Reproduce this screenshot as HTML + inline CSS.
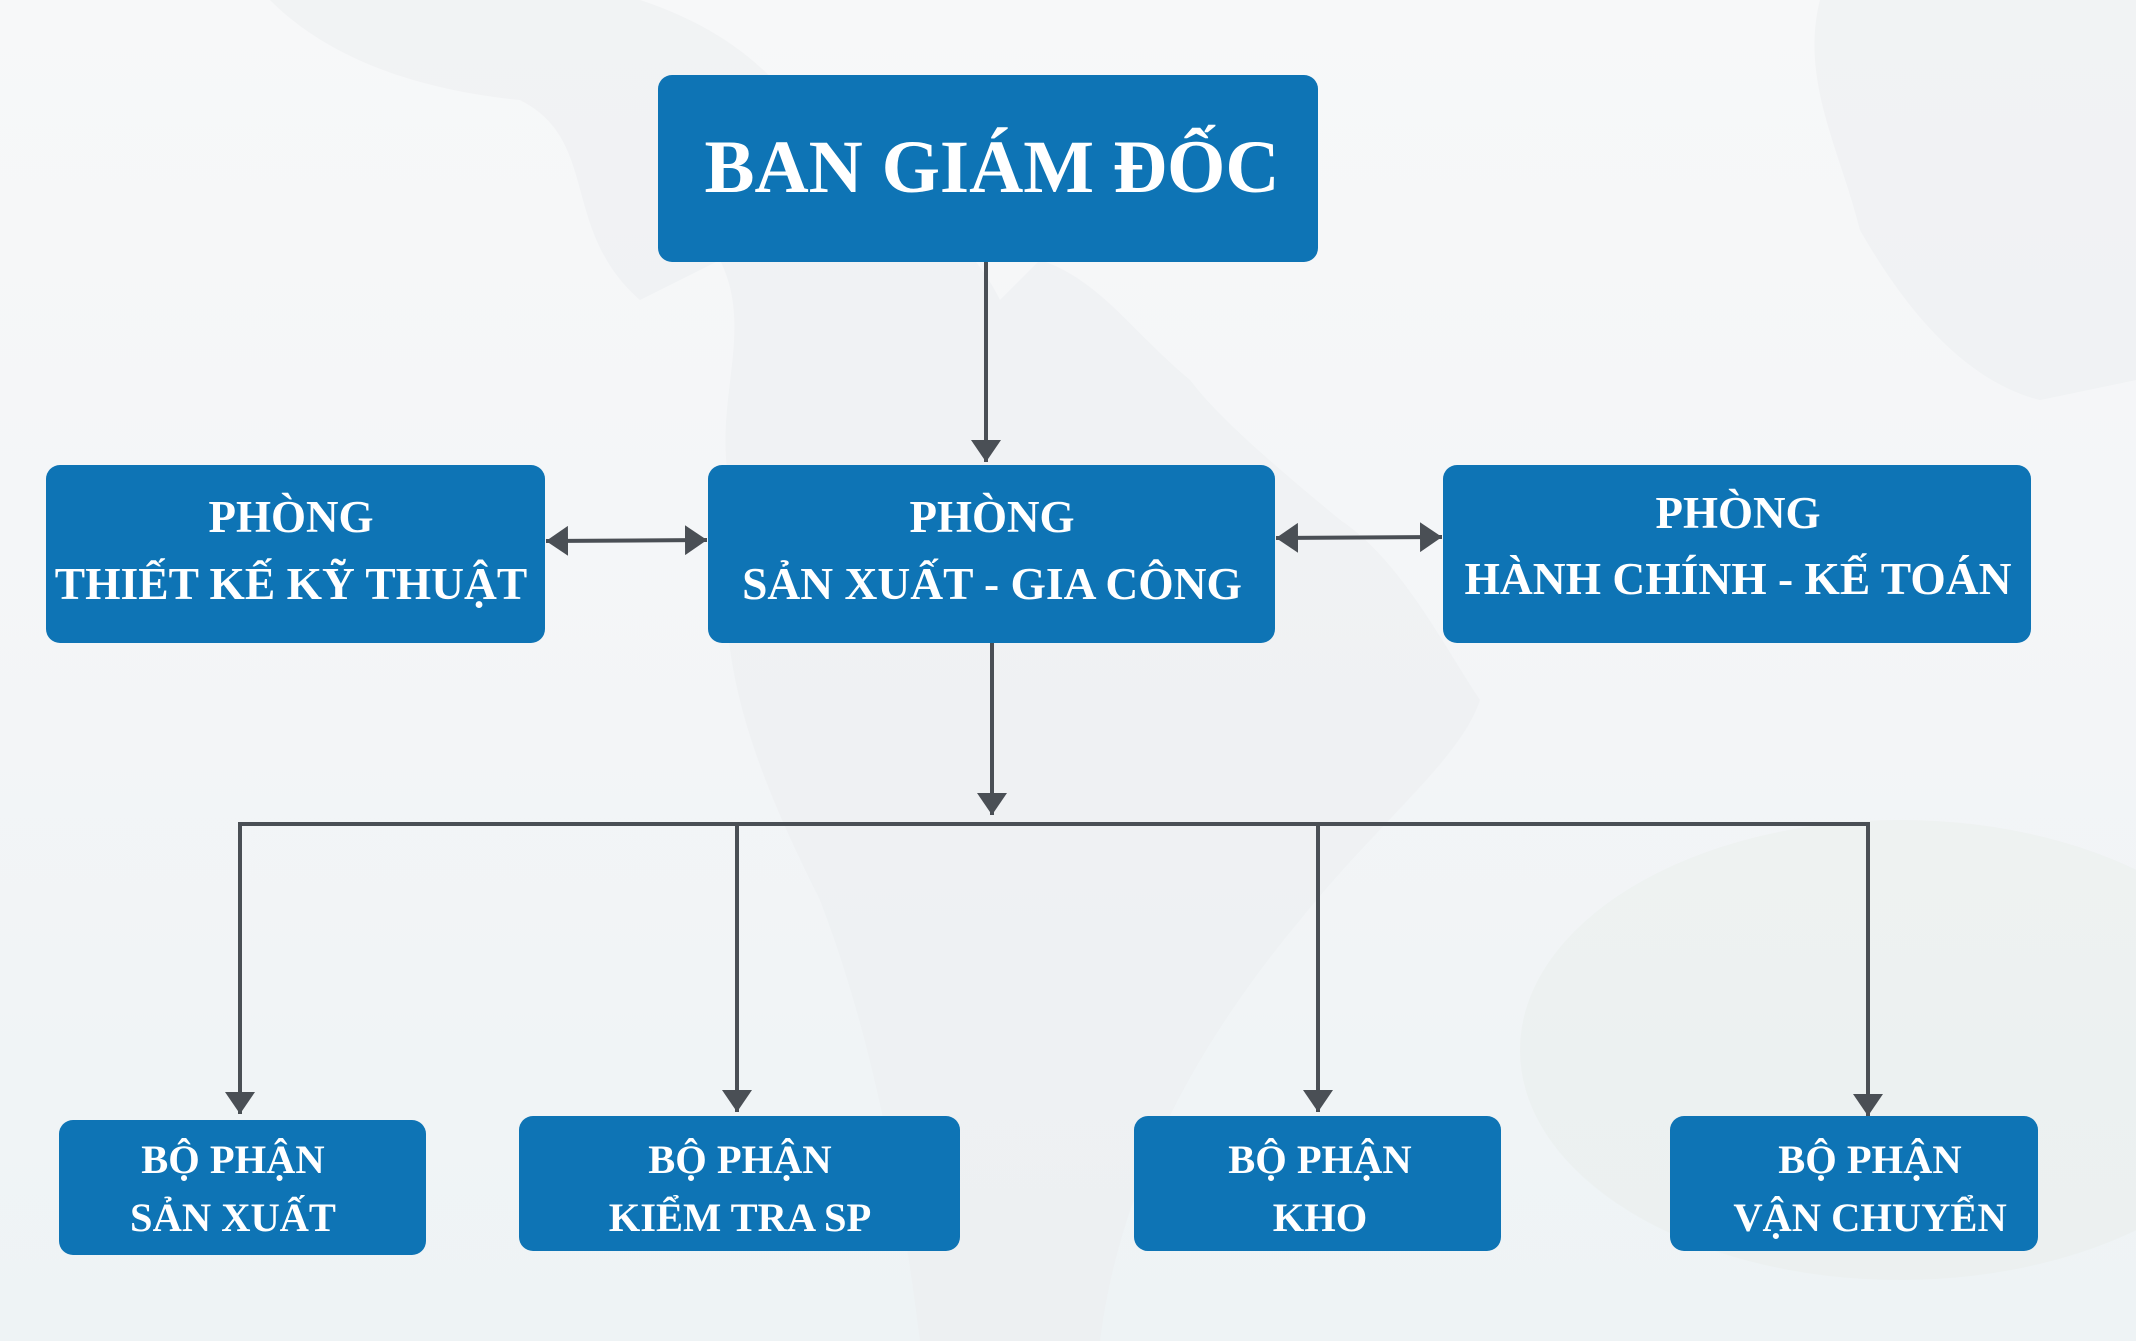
<!DOCTYPE html>
<html><head><meta charset="utf-8"><style>
html,body{margin:0;padding:0;}
body{width:2136px;height:1341px;overflow:hidden;background:linear-gradient(180deg,#f7f8f9 0%,#f3f5f7 55%,#eef3f5 100%);}
svg{display:block}
text{font-family:"Liberation Serif",serif;font-weight:bold;fill:#fff;text-anchor:middle}
</style></head><body>
<svg width="2136" height="1341" viewBox="0 0 2136 1341">
<defs>
<marker id="a" markerWidth="22" markerHeight="30" refX="22" refY="15" orient="auto-start-reverse" markerUnits="userSpaceOnUse" viewBox="0 0 22 30"><path d="M0,0 L22,15 L0,30z" fill="#4a4f55"/></marker>
</defs>
<path d="M270,0 C330,60 420,90 520,100 C600,140 560,230 640,300 L720,260 C760,340 700,420 740,520 C700,640 760,780 820,900 C870,1030 900,1180 920,1341 L1100,1341 C1120,1180 1200,1040 1300,920 C1380,820 1460,760 1480,700 C1440,640 1400,560 1340,520 C1280,470 1220,420 1190,380 C1130,330 1100,280 1040,260 L1000,300 C960,220 880,180 820,150 C780,60 700,20 640,0z" fill="#eceef0" opacity="0.5"/>
<path d="M1820,0 C1800,80 1840,150 1860,230 C1900,300 1960,380 2040,400 L2136,380 L2136,0z" fill="#eceef0" opacity="0.5"/>
<ellipse cx="1900" cy="1050" rx="380" ry="230" fill="#e3ece4" opacity="0.3"/>
<g stroke="#4a4f55" stroke-width="4" fill="none">
<line x1="986" y1="262" x2="986" y2="462" marker-end="url(#a)"/>
<line x1="992" y1="643" x2="992" y2="815" marker-end="url(#a)"/>
<polyline points="240,1000 240,824 1868,824 1868,1000"/>
<line x1="240" y1="990" x2="240" y2="1114" marker-end="url(#a)"/>
<line x1="1868" y1="990" x2="1868" y2="1116" marker-end="url(#a)"/>
<line x1="737" y1="824" x2="737" y2="1112" marker-end="url(#a)"/>
<line x1="1318" y1="824" x2="1318" y2="1112" marker-end="url(#a)"/>
<line x1="546" y1="541" x2="707" y2="540" marker-start="url(#a)" marker-end="url(#a)"/>
<line x1="1276" y1="538" x2="1442" y2="537" marker-start="url(#a)" marker-end="url(#a)"/>
</g>
<g fill="#0e74b5">
<rect x="658" y="75" width="660" height="187" rx="14"/>
<rect x="46" y="465" width="499" height="178" rx="14"/>
<rect x="708" y="465" width="567" height="178" rx="14"/>
<rect x="1443" y="465" width="588" height="178" rx="14"/>
<rect x="59" y="1120" width="367" height="135" rx="14"/>
<rect x="519" y="1116" width="441" height="135" rx="14"/>
<rect x="1134" y="1116" width="367" height="135" rx="14"/>
<rect x="1670" y="1116" width="368" height="135" rx="14"/>
</g>
<text x="992" y="192" font-size="75">BAN GIÁM ĐỐC</text>
<text x="291" y="532" font-size="45">PHÒNG</text>
<text x="291" y="599" font-size="45.5">THIẾT KẾ KỸ THUẬT</text>
<text x="992" y="532" font-size="45">PHÒNG</text>
<text x="992" y="599" font-size="45.5">SẢN XUẤT - GIA CÔNG</text>
<text x="1738" y="528" font-size="45">PHÒNG</text>
<text x="1738" y="594" font-size="45.5">HÀNH CHÍNH - KẾ TOÁN</text>
<text x="233" y="1173" font-size="40.5">BỘ PHẬN</text>
<text x="233" y="1231" font-size="40.5">SẢN XUẤT</text>
<text x="740" y="1173" font-size="40.5">BỘ PHẬN</text>
<text x="740" y="1231" font-size="40.5">KIỂM TRA SP</text>
<text x="1320" y="1173" font-size="40.5">BỘ PHẬN</text>
<text x="1320" y="1231" font-size="40.5">KHO</text>
<text x="1870" y="1173" font-size="40.5">BỘ PHẬN</text>
<text x="1870" y="1231" font-size="40.5">VẬN CHUYỂN</text>
</svg>
</body></html>
